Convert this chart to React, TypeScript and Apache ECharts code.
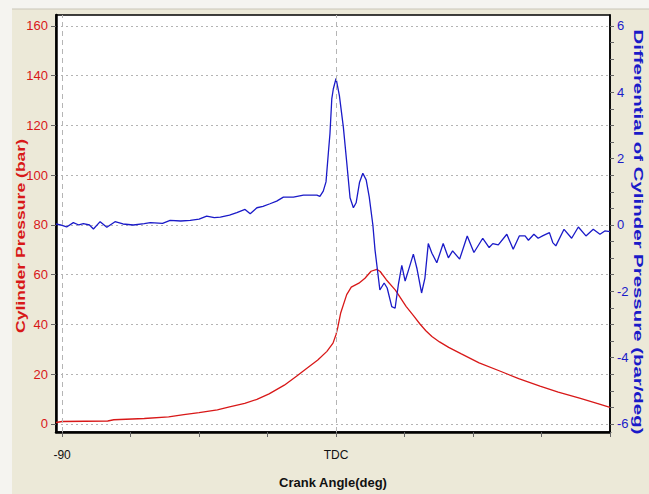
import React, { useEffect, useRef } from "react";
import * as echarts from "echarts";

// Cylinder pressure (bar) vs crank angle (deg)
const pressureAngle = [-92, -90, -75, -73, -63, -55, -50, -45, -39, -35, -30, -26, -22, -17, -13, -10, -6, -3, -1, 0, 0.6, 1.5, 3.5, 5, 7.5, 9.5, 11.5, 13.4, 14.5, 16.5, 19.5, 23, 25.5, 27.5, 29.5, 31.5, 34, 37, 41, 47, 54, 60, 67, 73, 80, 86, 90];
const pressureBar = [0.6, 1.0, 1.2, 1.7, 2.2, 2.9, 3.8, 4.6, 5.7, 6.9, 8.3, 9.9, 12.1, 15.6, 19.2, 22, 25.7, 29.2, 32.5, 36, 39, 44.5, 52, 55, 56.6, 58.6, 61.4, 62.2, 61.3, 58, 53.8, 47.3, 43.5, 40.3, 37.5, 35.2, 33, 30.8, 28.3, 24.6, 21.2, 18.2, 15.2, 12.8, 10.4, 8.2, 6.7];

// Differential of cylinder pressure (bar/deg)
const diffAngle = [-92, -90.5, -88.5, -86.3, -84.5, -83, -81, -79.7, -77.5, -75.3, -72.6, -70, -66.6, -63, -61, -57, -54.5, -51, -47.9, -45, -42.5, -40, -38, -35, -32.6, -29.9, -28.2, -26, -24, -21.7, -19.5, -17.3, -14, -10.7, -6.3, -5.3, -4.2, -3.3, -2.5, -2, -1.4, -0.9, 0, 1.1, 2.4, 3.5, 4.6, 5.7, 6.6, 7.7, 8.8, 9.9, 10.9, 12.1, 12.8, 14.4, 15.8, 16.8, 18.3, 19.4, 20.5, 21.6, 22.7, 23.7, 25.4, 26.6, 28.1, 29.2, 30.3, 31.5, 33.1, 35.2, 36.9, 38.3, 40.6, 43.1, 45.3, 48.2, 50.3, 51.5, 53.3, 56.1, 58.2, 60.2, 62.1, 63.2, 65, 66.4, 68, 70.1, 71.2, 72.2, 74.9, 77.4, 79.6, 82.1, 84.5, 86.7, 88.3, 90];
const diffValue = [0.03, 0.0, -0.06, 0.07, 0.0, 0.04, 0.0, -0.12, 0.1, -0.07, 0.1, 0.03, 0.0, 0.04, 0.07, 0.05, 0.14, 0.12, 0.14, 0.18, 0.27, 0.22, 0.24, 0.3, 0.37, 0.47, 0.34, 0.52, 0.56, 0.64, 0.72, 0.84, 0.84, 0.9, 0.9, 0.86, 1.02, 1.3, 2.2, 2.75, 3.8, 4.1, 4.42, 3.9, 2.95, 1.9, 0.82, 0.52, 0.67, 1.28, 1.56, 1.36, 0.85, 0.0, -0.75, -1.96, -1.75, -1.9, -2.46, -2.51, -1.78, -1.22, -1.69, -1.39, -0.88, -1.32, -2.05, -1.6, -0.56, -0.85, -1.14, -0.56, -0.99, -0.78, -1.03, -0.33, -0.83, -0.4, -0.68, -0.56, -0.6, -0.28, -0.73, -0.33, -0.33, -0.46, -0.28, -0.4, -0.32, -0.23, -0.53, -0.63, -0.13, -0.4, -0.06, -0.33, -0.13, -0.28, -0.18, -0.2];

const xTickValues = [-90, -67.5, -45, -22.5, 0, 22.5, 45, 67.5, 90];
const xLabelValues = [-90, 0];
const xGridValues = [-90, 0];
const leftTickValues = [0, 20, 40, 60, 80, 100, 120, 140, 160];
const rightTickValues = [-6, -5.5, -5, -4.5, -4, -3.5, -3, -2.5, -2, -1.5, -1, -0.5, 0, 0.5, 1, 1.5, 2, 2.5, 3, 3.5, 4, 4.5, 5, 5.5, 6];
const rightLabelValues = [-6, -4, -2, 0, 2, 4, 6];

const LABEL_FONT = "Arial, 'Liberation Sans', sans-serif";
const RED = "#d81818";
const BLUE = "#1a1ac8";

export default function App() {
  const ref = useRef<HTMLDivElement>(null);
  useEffect(() => {
    if (!ref.current) return;
    const chart = echarts.init(ref.current, null, { renderer: "svg" });
    const option: any = {
      animation: false,
      backgroundColor: "#f5f4f0",
      graphic: [
        { type: "rect", z: -100, silent: true, shape: { x: 12, y: 9, width: 637, height: 485 }, style: { fill: "#ECE9D8" } },
        { type: "line", z: -99, silent: true, shape: { x1: 12, y1: 9, x2: 649, y2: 9 }, style: { stroke: "#c9c6b8", lineWidth: 1 } },
        {
          type: "text", x: 20, y: 236, rotation: Math.PI / 2, scaleX: 1.35, silent: true,
          style: { text: "Cylinder Pressure (bar)", fontFamily: "Arial", fontWeight: "bold", fontSize: 13, fill: RED, align: "center", verticalAlign: "middle" },
        },
        {
          type: "text", x: 638, y: 232, rotation: -Math.PI / 2, scaleX: 1.57, silent: true,
          style: { text: "Differential of Cylinder Pressure (bar/deg)", fontFamily: "Arial", fontWeight: "bold", fontSize: 13, fill: BLUE, align: "center", verticalAlign: "middle" },
        },
      ],
      grid: { left: 56, right: 39, top: 15, bottom: 62, show: true, backgroundColor: "#ffffff", borderColor: "#000", borderWidth: 1.5 },
      xAxis: {
        type: "value", min: -92, max: 90,
        name: "Crank Angle(deg)", nameLocation: "middle", nameGap: 44,
        nameTextStyle: { color: "#111", fontFamily: LABEL_FONT, fontWeight: "bold", fontSize: 13 },
        axisLine: { show: true, onZero: false, lineStyle: { color: "#000", width: 2.5 } },
        axisTick: { show: true, length: 5, customValues: xTickValues, lineStyle: { color: "#666" } },
        axisLabel: { customValues: xLabelValues, margin: 17, color: "#111", fontFamily: LABEL_FONT, fontSize: 12, formatter: (v: number) => (v === 0 ? "TDC" : String(v)) },
        splitLine: { show: false },
      },
      yAxis: [
        {
          type: "value", min: -3.22, max: 164.42, position: "left",
          axisLine: { show: true, onZero: false, lineStyle: { color: "#000", width: 2.5 } },
          axisTick: { show: true, length: 5, customValues: leftTickValues, lineStyle: { color: "#666" } },
          axisLabel: { customValues: leftTickValues, margin: 8, color: RED, fontFamily: LABEL_FONT, fontSize: 13 },
          splitLine: { show: true, lineStyle: { color: "#b4b4b4", type: [2, 3], width: 1 } },
        },
        {
          type: "value", min: -6.2415, max: 6.3315, position: "right",
          axisLine: { show: true, onZero: false, lineStyle: { color: "#000", width: 1.5 } },
          axisTick: { show: true, length: 4, customValues: rightTickValues, lineStyle: { color: "#666" } },
          axisLabel: { customValues: rightLabelValues, margin: 7, color: BLUE, fontFamily: LABEL_FONT, fontSize: 13 },
          splitLine: { show: false },
        },
      ],
      series: [
        {
          name: "Cylinder Pressure", type: "line", yAxisIndex: 0, showSymbol: false, symbol: "none",
          data: pressureAngle.map((a, i) => [a, pressureBar[i]]),
          lineStyle: { color: RED, width: 1.3 }, z: 3,
          markLine: {
            silent: true, symbol: "none", label: { show: false },
            lineStyle: { color: "#b5b5b5", type: [5, 4], width: 1 },
            data: xGridValues.map((v) => ({ xAxis: v })),
          },
        },
        {
          name: "Differential", type: "line", yAxisIndex: 1, showSymbol: false, symbol: "none",
          data: diffAngle.map((a, i) => [a, diffValue[i]]),
          lineStyle: { color: BLUE, width: 1.3 }, z: 4,
        },
      ],
    };
    chart.setOption(option);
    return () => chart.dispose();
  }, []);
  return <div ref={ref} style={{ position: "absolute", left: 0, top: 0, width: 649, height: 494 }} />;
}
